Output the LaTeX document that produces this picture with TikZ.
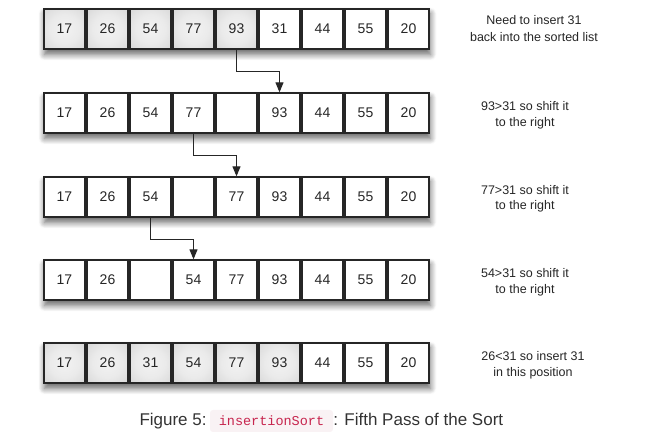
\documentclass[tikz,border=0pt]{standalone}
\usepackage{fontspec}
\setmainfont{Liberation Sans}
\setmonofont{Liberation Mono}
\usetikzlibrary{arrows.meta,shadows.blur,calc}
\definecolor{ink}{HTML}{262626}
\definecolor{codebg}{HTML}{F9F2F4}
\definecolor{codefg}{HTML}{C7254E}
\definecolor{captext}{HTML}{333333}
\pgfdeclareradialshading{cellshade}{\pgfpoint{0bp}{0bp}}{%
  color(0bp)=(white!95!black);
  color(18bp)=(white!92!black);
  color(38bp)=(white!84!black);
  color(50bp)=(white!76!black);
  color(72bp)=(white!64!black)}
\begin{document}
\begin{tikzpicture}[x=1pt,y=1pt,
  cell/.style={draw=ink, line width=1.3pt, minimum width=41pt, minimum height=40pt,
    inner sep=0pt, font=\fontsize{14}{16}\selectfont, text=ink, fill=white},
  hot/.style={cell, shading=cellshade},
  rowshadow/.style={fill=white, blur shadow={shadow xshift=1pt, shadow yshift=-5pt,
    shadow blur radius=6pt, shadow opacity=60, shadow blur steps=10}},
  conn/.style={draw=ink, line width=1pt, -{Triangle[width=8pt,length=10pt]}},
  note/.style={align=center, font=\fontsize{12.5}{15.5}\selectfont, text=ink},
  code/.style={fill=codebg, rounded corners=3pt, text=codefg, inner sep=0pt,
    font=\ttfamily\fontsize{13.5}{16}\selectfont, minimum width=123pt, minimum height=22pt},
  captxt/.style={inner sep=0pt, text=captext, font=\fontsize{17}{19}\selectfont}
]
\useasboundingbox (0,0) rectangle (668,438);

% row shadows
\foreach \yc in {409,325,241,158,75}{
  \path[rowshadow] (43.5,\yc-20.5) rectangle (429.5,\yc+20.5);
}

% row 1
\foreach \v [count=\i] in {17,26,54,77,93,31,44,55,20}{
  \ifnum\i<6
    \node[hot] (r1c\i) at ({64.5+43*(\i-1)},409) {\v};
  \else
    \node[cell] (r1c\i) at ({64.5+43*(\i-1)},409) {\v};
  \fi
}
% row 2
\foreach \v [count=\i] in {17,26,54,77,{},93,44,55,20}{
  \node[cell] (r2c\i) at ({64.5+43*(\i-1)},325) {\v};
}
% row 3
\foreach \v [count=\i] in {17,26,54,{},77,93,44,55,20}{
  \node[cell] (r3c\i) at ({64.5+43*(\i-1)},241) {\v};
}
% row 4
\foreach \v [count=\i] in {17,26,{},54,77,93,44,55,20}{
  \node[cell] (r4c\i) at ({64.5+43*(\i-1)},158) {\v};
}
% row 5
\foreach \v [count=\i] in {17,26,31,54,77,93,44,55,20}{
  \ifnum\i<7
    \node[hot] (r5c\i) at ({64.5+43*(\i-1)},75) {\v};
  \else
    \node[cell] (r5c\i) at ({64.5+43*(\i-1)},75) {\v};
  \fi
}

% connectors
\draw[conn] (r1c5.south) -- ++(0,-22) -| (r2c6.north);
\draw[conn] (r2c4.south) -- ++(0,-22) -| (r3c5.north);
\draw[conn] (r3c3.south) -- ++(0,-21.5) -| (r4c4.north);

% notes
\node[note, font=\fontsize{12.5}{17}\selectfont] (n1) at (534,409.5) {Need to insert 31\\back into the sorted list};
\node[note] (n2) at (525,322.5) {93>31 so shift it\\to the right};
\node[note] (n3) at (525,239) {77>31 so shift it\\to the right};
\node[note] (n4) at (525,155.5) {54>31 so shift it\\to the right};
\node[note] (n5) at (533,72.5) {26<31 so insert 31\\in this position};

% caption
\node[code] (code) at (271.5,17) {insertionSort};
\node[captxt, anchor=base east] (capl) at ([xshift=-3pt]code.base west) {Figure 5:};
\node[captxt, anchor=base west] (capr) at (code.base east) {: Fifth Pass of the Sort};
\end{tikzpicture}
\end{document}
